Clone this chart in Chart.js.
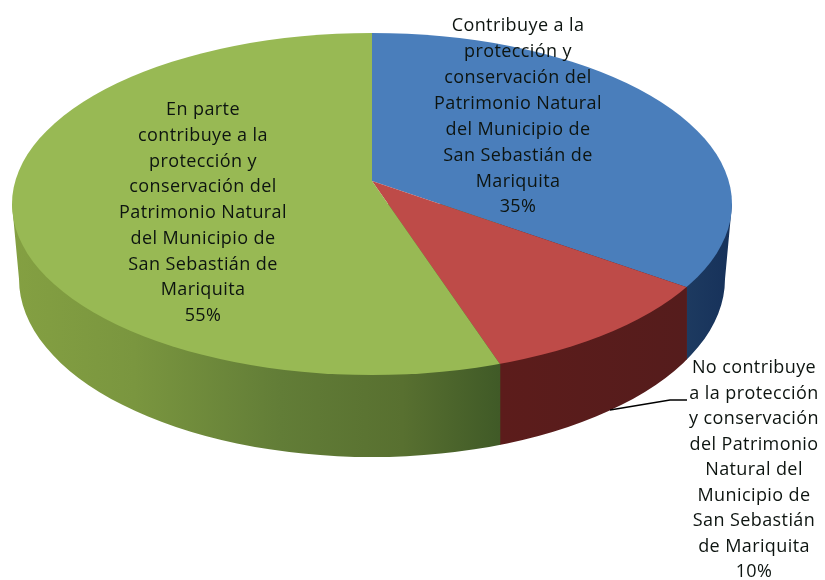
<!DOCTYPE html>
<html>
<head>
<meta charset="utf-8">
<style>
html,body{margin:0;padding:0;background:#fff;}
canvas{display:block;filter:blur(0.75px);}
</style>
<script src="https://cdn.jsdelivr.net/npm/chart.js@4/dist/chart.umd.min.js"></script>
</head>
<body>
<canvas id="c" width="825" height="580"></canvas>
<script>
const categories = [
  "Contribuye a la protección y conservación del Patrimonio Natural del Municipio de San Sebastián de Mariquita",
  "No contribuye a la protección y conservación del Patrimonio Natural del Municipio de San Sebastián de Mariquita",
  "En parte contribuye a la protección y conservación del Patrimonio Natural del Municipio de San Sebastián de Mariquita"
];
const values = [35, 10, 55];
const topColors = ["#4a7ebb", "#be4b48", "#98b954"];
const wallStops = [
  [[0, "#1d3a60"], [1, "#16315a"]],
  [[0, "#5c1c1b"], [1, "#551c1c"]],
  [[0, "#84a042"], [0.25, "#7a963f"], [0.55, "#627d37"], [0.8, "#587030"], [1, "#405a27"]]
];
const labelBlue = ["Contribuye a la", "protección y", "conservación del", "Patrimonio Natural", "del Municipio de", "San Sebastián de", "Mariquita", "35%"];
const labelRed = ["No contribuye", "a la protección", "y conservación", "del Patrimonio", "Natural del", "Municipio de", "San Sebastián", "de Mariquita", "10%"];
const labelGreen = ["En parte", "contribuye a la", "protección y", "conservación del", "Patrimonio Natural", "del Municipio de", "San Sebastián de", "Mariquita", "55%"];

const APEX = {x: 372, y: 181};
const K = 0.465;
const TOP = {x: 372, y: 204, rx: 360, ry: 171};
const BOT = {x: 372, y: 279, rx: 353, ry: 178};
const LABEL_POS = [
  {lines: labelBlue, x: 518, y: 26, step: 25.9},
  {lines: labelRed, x: 754, y: 368, step: 25.5},
  {lines: labelGreen, x: 203, y: 110, step: 25.75}
];

function rimX(angle) {
  const c = Math.cos(angle), s = K * Math.sin(angle);
  const dx = (APEX.x - TOP.x) / TOP.rx, dy = (APEX.y - TOP.y) / TOP.ry;
  const ux = c / TOP.rx, uy = s / TOP.ry;
  const A = ux * ux + uy * uy, B = 2 * (dx * ux + dy * uy), C = dx * dx + dy * dy - 1;
  const t = (-B + Math.sqrt(B * B - 4 * A * C)) / (2 * A);
  return APEX.x + t * c;
}

const pie3d = {
  id: "pie3d",
  beforeDatasetDraw(chart) {
    const ctx = chart.ctx;
    const arcs = chart.getDatasetMeta(0).data;
    // side wall
    ctx.save();
    ctx.beginPath();
    ctx.moveTo(TOP.x - TOP.rx, TOP.y);
    ctx.lineTo(BOT.x - BOT.rx, BOT.y);
    ctx.ellipse(BOT.x, BOT.y, BOT.rx, BOT.ry, 0, Math.PI, 0, true);
    ctx.lineTo(TOP.x + TOP.rx, TOP.y);
    ctx.closePath();
    ctx.clip();
    const redStart = rimX(arcs[1].startAngle), redEnd = rimX(arcs[1].endAngle);
    const spans = [
      [redStart, TOP.x + TOP.rx],
      [redEnd, redStart],
      [TOP.x - TOP.rx, redEnd]
    ];
    spans.forEach((sp, i) => {
      const g = ctx.createLinearGradient(sp[0], 0, sp[1], 0);
      wallStops[i].forEach(st => g.addColorStop(st[0], st[1]));
      ctx.fillStyle = g;
      ctx.fillRect(sp[0], 0, sp[1] - sp[0] + (i === 0 ? 0 : 0.5), 580);
    });
    ctx.restore();
    // top face
    ctx.save();
    ctx.beginPath();
    ctx.ellipse(TOP.x, TOP.y, TOP.rx, TOP.ry, 0, 0, Math.PI * 2);
    ctx.clip();
    arcs.forEach(arc => {
      ctx.save();
      ctx.translate(APEX.x, APEX.y);
      ctx.scale(1, K);
      ctx.translate(-arc.x, -arc.y);
      arc.draw(ctx);
      ctx.restore();
    });
    ctx.restore();
    return false;
  },
  afterDatasetsDraw(chart) {
    const ctx = chart.ctx;
    ctx.save();
    // leader line
    ctx.strokeStyle = "#000";
    ctx.lineWidth = 1.4;
    ctx.beginPath();
    ctx.moveTo(687, 400);
    ctx.lineTo(670, 400);
    ctx.lineTo(610, 410);
    ctx.stroke();
    // labels
    ctx.fillStyle = "#0d1410";
    ctx.font = '18px "Open Sans", sans-serif';
    ctx.letterSpacing = "0.4px";
    ctx.textAlign = "center";
    ctx.textBaseline = "middle";
    LABEL_POS.forEach(lp => {
      lp.lines.forEach((t, i) => ctx.fillText(t, lp.x, lp.y + i * lp.step));
    });
    ctx.restore();
  }
};

new Chart(document.getElementById("c"), {
  type: "pie",
  data: {
    labels: categories,
    datasets: [{data: values, backgroundColor: topColors, borderWidth: 0}]
  },
  options: {
    responsive: false,
    animation: false,
    radius: 520,
    events: [],
    plugins: {legend: {display: false}, tooltip: {enabled: false}}
  },
  plugins: [pie3d]
});
</script>
</body>
</html>
